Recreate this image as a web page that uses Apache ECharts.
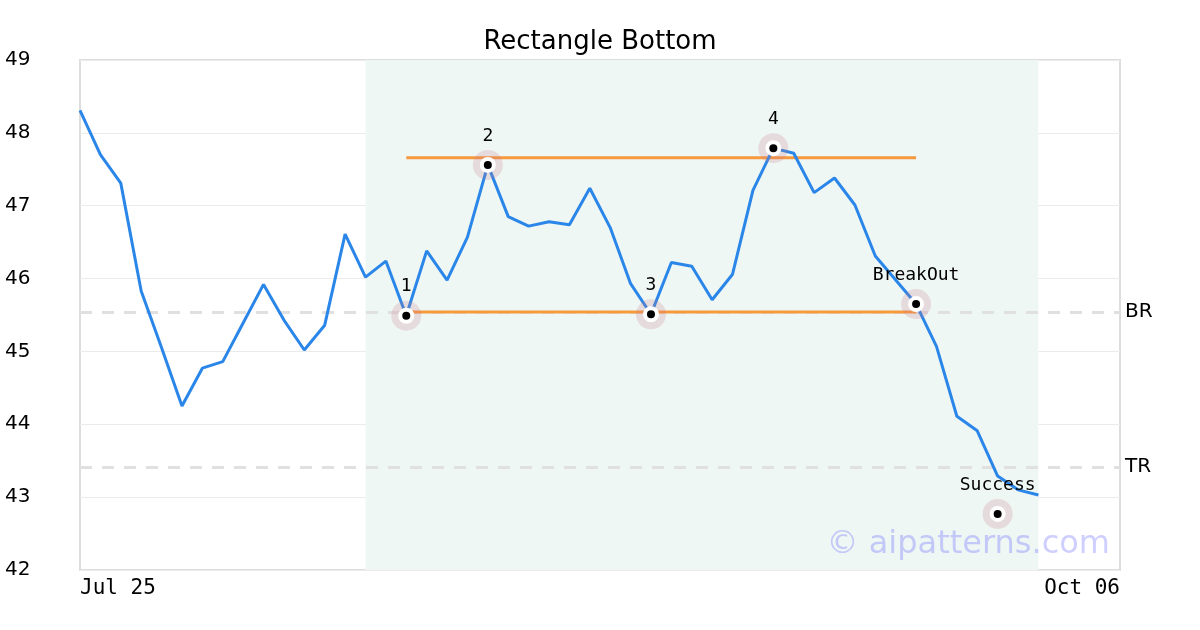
<!DOCTYPE html>
<html>
<head>
<meta charset="utf-8">
<script src="https://cdn.jsdelivr.net/npm/echarts@6/dist/echarts.min.js"></script>
<style>
  html, body { margin: 0; padding: 0; background: #fff; }
  #chart { width: 1200px; height: 630px; }
</style>
</head>
<body>
<div id="chart"></div>
<script>
// closing prices, one per trading day starting Jul 25
const prices = [
  48.31, 47.70, 47.31, 45.83, 45.05, 44.25, 44.77, 44.86, 45.39, 45.92,
  45.43, 45.02, 45.36, 46.61, 46.02, 46.24, 45.49, 46.38, 45.98, 46.57,
  47.56, 46.85, 46.72, 46.78, 46.74, 47.24, 46.70, 45.93, 45.51, 46.22,
  46.17, 45.71, 46.06, 47.21, 47.79, 47.72, 47.18, 47.38, 47.01, 46.31,
  45.98, 45.65, 45.07, 44.11, 43.91, 43.29, 43.10, 43.03
];

// x axis: day index -> label
const tickIndex = [0, 51];
const tickLabels = ['Jul 25', 'Oct 06'];

// pattern points
const pointNames = ['1', '2', '3', '4', 'BreakOut', 'Success'];
const pointIndex = [16, 20, 28, 34, 41, 45];
const pointValues = [45.49, 47.56, 45.51, 47.79, 45.65, 42.77];

// rectangle bounds
const rectStart = 16;
const rectEnd = 41;
const rectTop = 47.66;
const rectBottom = 45.54;

// reference levels
const levelNames = ['BR', 'TR'];
const levelValues = [45.54, 43.41];

// shaded pattern window
const shadeStart = 14;
const shadeEnd = 47;

const chart = echarts.init(document.getElementById('chart'));

const pointData = pointIndex.map((x, i) => ({ name: pointNames[i], value: [x, pointValues[i]] }));

chart.setOption({
  animation: false,
  title: {
    text: 'Rectangle Bottom',
    left: 'center',
    top: 24,
    textStyle: { fontFamily: 'DejaVu Sans', fontSize: 26, fontWeight: 'normal', color: '#000' },
  },
  grid: {
    left: 80,
    right: 80,
    top: 60,
    bottom: 60,
    show: true,
    borderColor: '#dddddd',
    borderWidth: 2,
    backgroundColor: 'transparent',
  },
  xAxis: {
    type: 'value',
    min: 0,
    max: 51,
    interval: 51,
    axisLine: { show: false },
    axisTick: { show: false },
    splitLine: { show: false },
    axisLabel: {
      margin: 8,
      fontFamily: 'DejaVu Sans Mono',
      fontSize: 21,
      color: '#000',
      alignMinLabel: 'left',
      alignMaxLabel: 'right',
      formatter: (v) => {
        const k = tickIndex.indexOf(v);
        return k >= 0 ? tickLabels[k] : '';
      },
    },
  },
  yAxis: {
    type: 'value',
    min: 42,
    max: 49,
    interval: 1,
    axisLine: { show: false },
    axisTick: { show: false },
    splitLine: { lineStyle: { color: '#ebebeb', width: 1 } },
    axisLabel: {
      margin: 75,
      align: 'left',
      fontFamily: 'DejaVu Sans',
      fontSize: 20,
      color: '#000',
      padding: [4, 0, 0, 0],
    },
  },
  graphic: [{
    type: 'text',
    right: 90,
    top: 529,
    z: 100,
    style: {
      text: '\u00a9 aipatterns.com',
      fontFamily: 'DejaVu Sans',
      fontSize: 32,
      fill: 'rgba(60, 60, 255, 0.25)',
    },
  }],
  series: [
    {
      name: 'levels',
      type: 'line',
      data: [],
      z: 1,
      markArea: {
        silent: true,
        z: 1,
        itemStyle: { color: '#eff7f4' },
        data: [[{ xAxis: shadeStart }, { xAxis: shadeEnd }]],
      },
      markLine: {
        silent: true,
        z: 1,
        symbol: 'none',
        lineStyle: { color: '#e0e0e0', width: 3, type: [12, 10] },
        label: {
          position: 'end',
          distance: 5,
          fontFamily: 'DejaVu Sans',
          fontSize: 20,
          color: '#000',
          padding: [4, 0, 0, 0],
          formatter: (p) => p.name,
        },
        data: levelValues.map((v, i) => ({ name: levelNames[i], yAxis: v })),
      },
    },
    {
      name: 'top',
      type: 'line',
      data: [[rectStart, rectTop], [rectEnd, rectTop]],
      symbol: 'none',
      z: 2,
      lineStyle: { color: '#f7993d', width: 3 },
    },
    {
      name: 'bottom',
      type: 'line',
      data: [[rectStart, rectBottom], [rectEnd, rectBottom]],
      symbol: 'none',
      z: 2,
      lineStyle: { color: '#f7993d', width: 3 },
    },
    {
      name: 'price',
      type: 'line',
      data: prices.map((v, i) => [i, v]),
      showSymbol: false,
      symbol: 'none',
      z: 3,
      lineStyle: { color: '#2a86e8', width: 3 },
    },
    {
      name: 'halo',
      type: 'scatter',
      data: pointData,
      symbolSize: 30,
      z: 4,
      itemStyle: { color: 'rgba(200, 120, 140, 0.28)' },
      label: {
        show: true,
        position: 'top',
        distance: 5,
        fontFamily: 'DejaVu Sans Mono',
        fontSize: 18,
        color: '#000',
        opacity: 1,
        formatter: (p) => p.name,
      },
    },
    {
      name: 'ring',
      type: 'scatter',
      data: pointData,
      symbolSize: 16,
      z: 5,
      itemStyle: { color: '#fff', opacity: 1 },
    },
    {
      name: 'dot',
      type: 'scatter',
      data: pointData,
      symbolSize: 8,
      z: 6,
      itemStyle: { color: '#000', opacity: 1 },
    },
  ],
});
</script>
</body>
</html>
